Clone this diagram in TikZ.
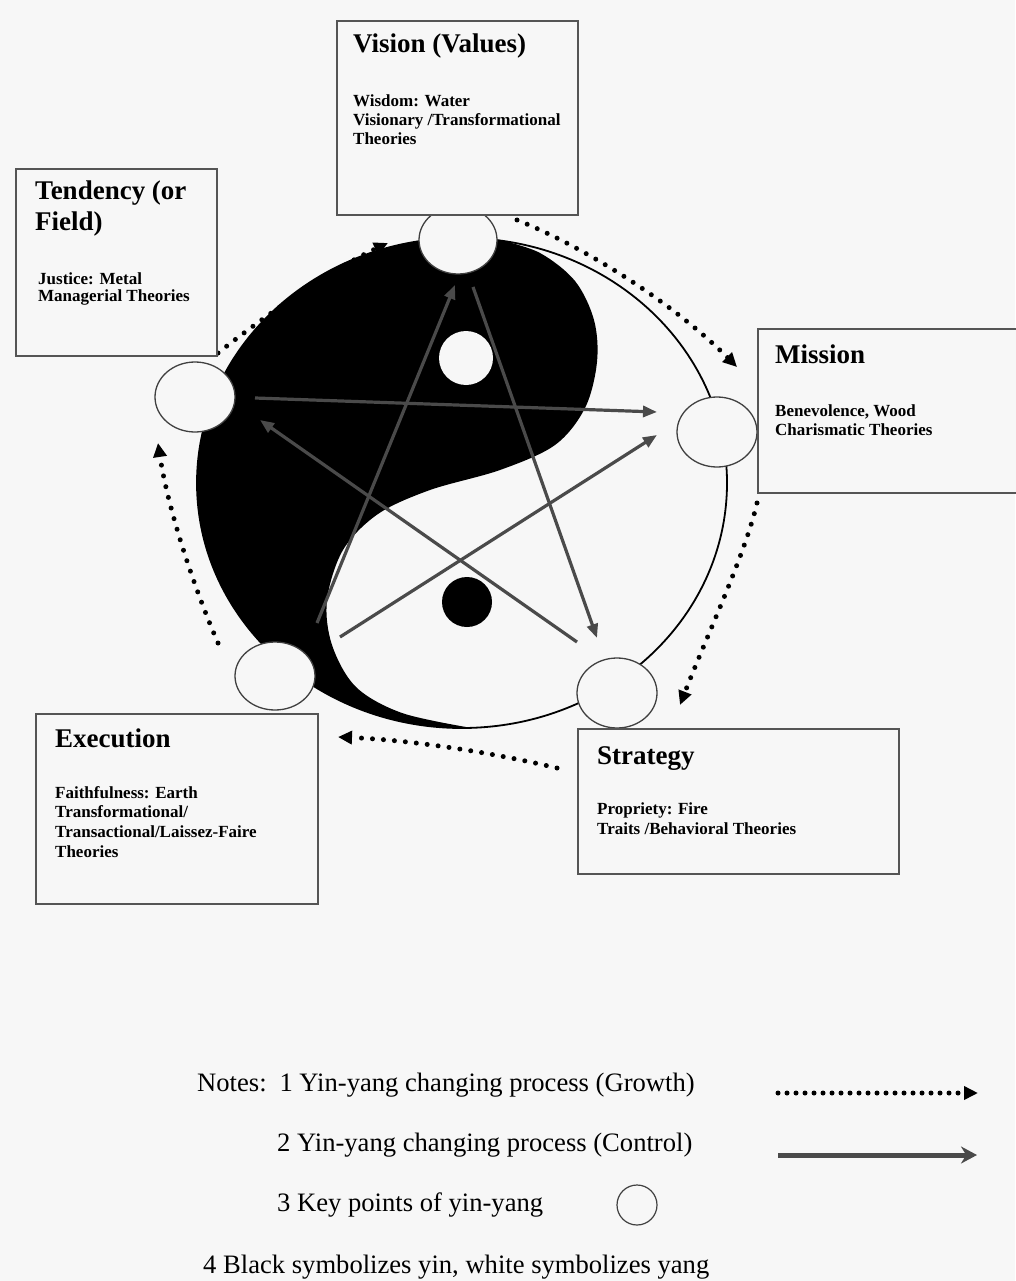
\documentclass[tikz,border=0pt]{standalone}
\usepackage{fontspec}
\setmainfont{Liberation Serif}
\usetikzlibrary{arrows.meta,calc,shapes.geometric}
\definecolor{bgc}{RGB}{247,247,247}
\definecolor{ctrlc}{RGB}{74,74,74}
\definecolor{boxc}{RGB}{85,85,85}
\pgfdeclarelayer{back}
\pgfdeclarelayer{mid}
\pgfsetlayers{back,mid,main}
\begin{document}
\begin{tikzpicture}[x=1pt,y=-1pt,
  keypt/.style={ellipse, draw=black!75, line width=1.3pt, fill=bgc, minimum width=80pt, minimum height=70pt, inner sep=0pt},
  ctrl/.style={draw=ctrlc, line width=3.2pt, -{Triangle[length=14pt,width=11pt]}},
  growth/.style={draw=black, line width=5pt, line cap=round, dash pattern=on 0pt off 11pt, -{Triangle[length=14pt,width=13pt]}},
  ctrlleg/.style={draw=ctrlc, line width=5pt, -{Stealth[length=16pt,width=17pt]}},
  boxx/.style={draw=boxc, line width=1.8pt, fill=bgc, anchor=north west, inner sep=0pt},
  ttl/.style={anchor=base west, inner sep=0pt, font=\fontsize{27}{30}\selectfont\bfseries},
  bdy/.style={anchor=base west, inner sep=0pt, font=\fontsize{17}{19}\selectfont\bfseries},
  note/.style={anchor=base west, inner sep=0pt, font=\fontsize{26.6}{30}\selectfont},
  keyleg/.style={circle, draw=black!75, line width=1.2pt, minimum size=40pt, inner sep=0pt}
]
\useasboundingbox (0,0) rectangle (1015,1281);
\begin{pgfonlayer}{back}
  \fill[bgc] (0,0) rectangle (1015,1281);
\end{pgfonlayer}

% key points
\node[keypt, minimum width=78pt, minimum height=68pt] (V) at (458,240) {};
\node[keypt] (T) at (195,397) {};
\node[keypt, minimum height=70pt] (M) at (717,432) {};
\node[keypt, minimum height=68pt] (E) at (275,676) {};
\node[keypt] (S) at (617,693) {};

\begin{pgfonlayer}{mid}
  % yin (black) region
  \fill[black] (471.2,727.9) arc[start angle=88, end angle=270, x radius=265, y radius=245]
    -- plot[smooth, tension=0.55] coordinates {(500,240) (540,253) (575,281) (594,320) (597,362) (585,408) (555,445) (500,470) (430,490) (378,514) (343,550) (327,600) (332,645) (356,687) (402,713) (471.2,727.9)} -- cycle;
  \fill[bgc] (466,358) circle[radius=27];
  \fill[black] (467,602) circle[radius=25];
  \draw[black, line width=1.8pt] (462,483) ellipse[x radius=265, y radius=245];
  % control cycle
  \draw[ctrl] ($(V)+(15,47)$) -- ($(S)+(-20,-55)$);
  \draw[ctrl] ($(T)+(60,1)$) -- ($(M)+(-60,-20)$);
  \draw[ctrl] ($(S)+(-40,-51)$) -- ($(T)+(65,23)$);
  \draw[ctrl] ($(E)+(42,-53)$) -- ($(V)+(-3,45)$);
  \draw[ctrl] ($(E)+(65,-39)$) -- ($(M)+(-60,3)$);
\end{pgfonlayer}

% growth cycle
\draw[growth] ($(T)+(23,-44)$) .. controls (262,318) and (330,270) .. ($(V)+(-70,3)$);
\draw[growth] ($(V)+(59,-20)$) .. controls (580,245) and (670,300) .. ($(M)+(20,-65)$);
\draw[growth] ($(M)+(40,71)$) .. controls (745,555) and (705,640) .. ($(S)+(63,12)$);
\draw[growth] ($(S)+(-60,75)$) .. controls (490,752) and (410,740) .. ($(E)+(63,61)$);
\draw[growth] ($(E)+(-57,-33)$) .. controls (195,590) and (168,510) .. ($(T)+(-37,46)$);

% boxes
\node[boxx, minimum width=241pt, minimum height=194pt] (bv) at (336,20) {};
\node[boxx, minimum width=201pt, minimum height=187pt] (bt) at (15,168) {};
\node[boxx, minimum width=262pt, minimum height=164pt] (bm) at (757,328) {};
\node[boxx, minimum width=282pt, minimum height=190pt] (be) at (35,713) {};
\node[boxx, minimum width=321pt, minimum height=145pt] (bs) at (577,728) {};

% box texts
\node[ttl] (tv) at (353,53) {Vision (Values)};
\node[bdy] (tv1) at (353,107) {Wisdom: Water};
\node[bdy] (tv2) at (353,126) {Visionary /Transformational};
\node[bdy] (tv3) at (353,145) {Theories};

\node[ttl] (tt) at (35,200) {Tendency (or};
\node[ttl] (tt0) at (35,231) {Field)};
\node[bdy] (tt1) at (38,284) {Justice: Metal};
\node[bdy] (tt2) at (38,301) {Managerial Theories};

\node[ttl] (tm) at (775,363) {Mission};
\node[bdy] (tm1) at (775,416) {Benevolence, Wood};
\node[bdy] (tm2) at (775,435) {Charismatic Theories};

\node[ttl] (te) at (55,747) {Execution};
\node[bdy] (te1) at (55,798) {Faithfulness: Earth};
\node[bdy] (te2) at (55,817) {Transformational/};
\node[bdy] (te3) at (55,837) {Transactional/Laissez-Faire};
\node[bdy] (te4) at (55,857) {Theories};

\node[ttl] (ts) at (597,764) {Strategy};
\node[bdy] (ts1) at (597,814) {Propriety: Fire};
\node[bdy] (ts2) at (597,834) {Traits /Behavioral Theories};

% legend
\node[note] (n1) at (197,1091) {Notes:\hspace{4pt} 1 Yin-yang changing process (Growth)};
\node[note] (n2) at (277,1151) {2 Yin-yang changing process (Control)};
\node[note] (n3) at (277,1211) {3 Key points of yin-yang};
\node[note] (n4) at (203,1273) {4 Black symbolizes yin, white symbolizes yang};
\coordinate (g1) at (778,1093);
\coordinate (g2) at (978,1093);
\draw[growth, dash pattern=on 0pt off 9pt] (g1) -- (g2);
\coordinate (c1) at (778,1155);
\coordinate (c2) at (977,1155);
\draw[ctrlleg] (c1) -- (c2);
\node[keyleg] (lk) at (637,1205) {};
\end{tikzpicture}
\end{document}
